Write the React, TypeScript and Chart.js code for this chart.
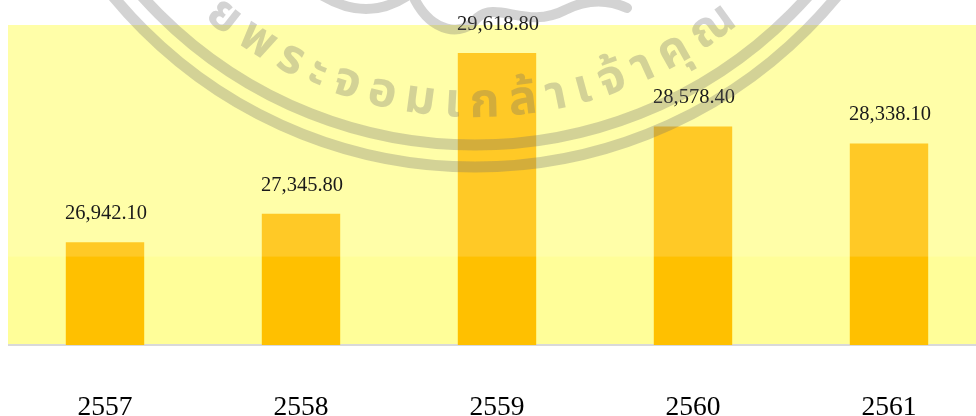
import React, { useEffect, useRef } from "react";
import { Chart, registerables } from "chart.js";

Chart.register(...registerables);

const years = ["2557", "2558", "2559", "2560", "2561"];
const amounts = [26942.1, 27345.8, 29618.8, 28578.4, 28338.1];
const valueLabels = ["26,942.10", "27,345.80", "29,618.80", "28,578.40", "28,338.10"];
const axisMin = 25490;
const axisMax = 30015;
const bandBoundary = 26740;
const sealClusters = ["ย", "พ", "ร", "ะ", "จ", "อ", "ม", "เ", "ก", "ล้", "า", "เ", "จ้", "า", "คุ", "ณ"];
const sealAnchor = 8;
const FONT = '"Liberation Serif", "Times New Roman", serif';
const SEAL = "rgba(110,110,110,0.3)";

const backdrop = {
  id: "backdrop",
  beforeDraw(chart: any) {
    const { ctx, chartArea: a } = chart;
    ctx.save();
    ctx.fillStyle = "#FFFE99";
    ctx.fillRect(a.left, a.top, a.right - a.left, a.bottom - a.top);
    ctx.restore();
  },
  afterDatasetsDraw(chart: any) {
    const { ctx, chartArea: a, scales } = chart;
    const yb = scales.y.getPixelForValue(bandBoundary);
    ctx.save();
    ctx.fillStyle = "rgba(255,255,255,0.15)";
    ctx.fillRect(a.left, a.top, a.right - a.left, yb - a.top);
    ctx.restore();
  },
};

const valueText = {
  id: "valueText",
  afterDraw(chart: any) {
    const { ctx, scales } = chart;
    ctx.save();
    ctx.font = `20.5px ${FONT}`;
    ctx.fillStyle = "#1a1a1a";
    ctx.textAlign = "center";
    ctx.textBaseline = "middle";
    amounts.forEach((v, i) => {
      ctx.fillText(valueLabels[i], scales.x.getPixelForValue(i) + 1, scales.y.getPixelForValue(v) - 28.5);
    });
    ctx.restore();
  },
};

const seal = {
  id: "seal",
  afterDraw(chart: any) {
    const { ctx } = chart;
    const cx = 468;
    const cy = -302;
    ctx.save();
    ctx.strokeStyle = SEAL;
    ctx.lineCap = "round";
    ctx.lineWidth = 11;
    ctx.beginPath();
    ctx.arc(cx, cy, 469, 0, Math.PI);
    ctx.stroke();
    ctx.beginPath();
    ctx.arc(cx, cy, 447, 0, Math.PI);
    ctx.stroke();

    // ornament at the top of the seal
    ctx.lineWidth = 10;
    ctx.beginPath();
    ctx.moveTo(316, -4);
    ctx.quadraticCurveTo(360, 22, 400, -4);
    ctx.moveTo(408, 0);
    ctx.bezierCurveTo(425, 32, 455, 38, 470, 18);
    ctx.moveTo(470, 18);
    ctx.bezierCurveTo(490, 0, 520, 30, 558, 10);
    ctx.moveTo(558, 10);
    ctx.quadraticCurveTo(590, -6, 620, 8);
    ctx.stroke();

    ctx.font = 'bold 48px "Noto Sans Thai", "Noto Sans", sans-serif';
    ctx.fillStyle = SEAL;
    ctx.textAlign = "center";
    ctx.textBaseline = "alphabetic";
    const R = 419;
    const widths = sealClusters.map((c) => ctx.measureText(c).width + 10);
    sealClusters.forEach((c, i) => {
      let dist = 0;
      if (i >= sealAnchor) {
        for (let k = sealAnchor; k < i; k++) dist += (widths[k] + widths[k + 1]) / 2;
      } else {
        for (let k = i; k < sealAnchor; k++) dist -= (widths[k] + widths[k + 1]) / 2;
      }
      const ang = dist / R + 0.024;
      ctx.save();
      ctx.translate(cx + R * Math.sin(ang), cy + R * Math.cos(ang));
      ctx.rotate(-ang);
      ctx.fillText(c, 0, 0);
      ctx.restore();
    });
    ctx.restore();
  },
};

export default function App() {
  const ref = useRef<HTMLCanvasElement>(null);
  useEffect(() => {
    const chart = new Chart(ref.current as HTMLCanvasElement, {
      type: "bar",
      data: {
        labels: years,
        datasets: [
          {
            data: amounts,
            backgroundColor: "#FFC000",
            barPercentage: 0.4,
            categoryPercentage: 1,
          },
        ],
      },
      plugins: [backdrop, valueText, seal],
      options: {
        responsive: false,
        animation: false,
        layout: { padding: { top: 25, left: 0, right: 0, bottom: 0 } },
        plugins: { legend: { display: false }, tooltip: { enabled: false } },
        scales: {
          y: { display: false, min: axisMin, max: axisMax },
          x: {
            afterFit(scale: any) {
              scale.height = 71;
            },
            grid: { display: false, drawTicks: false },
            border: { color: "#D9D9D9", width: 2 },
            ticks: {
              padding: 46,
              color: "#000000",
              maxRotation: 0,
              font: { family: FONT, size: 27.5 },
            },
          },
        },
      },
    } as any);
    return () => chart.destroy();
  }, []);
  return (
    <div style={{ position: "absolute", left: 8, top: 0, width: 968, height: 416, overflow: "hidden" }}>
      <canvas ref={ref} width={980} height={416} style={{ position: "absolute", left: -1, top: 0, display: "block" }} />
    </div>
  );
}
